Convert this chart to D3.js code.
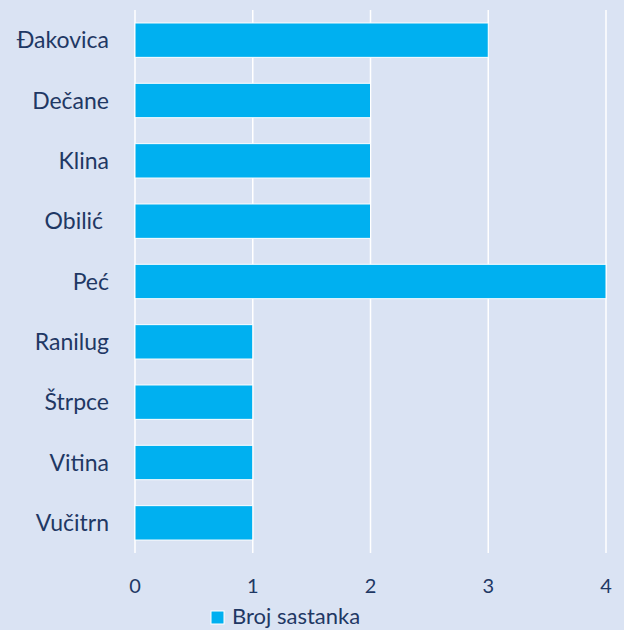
<!DOCTYPE html>
<html>
<head>
<meta charset="utf-8">
<script src="https://cdn.jsdelivr.net/npm/d3@7"></script>
<style>
  body { margin: 0; background: #dae3f3; }
  text { font-family: Lato, "Open Sans", sans-serif; fill: #1f3864; }
</style>
</head>
<body>
<svg id="chart" width="624" height="630"></svg>
<script>
// data
const municipalities = ["Đakovica", "Dečane", "Klina", "Obilić ", "Peć", "Ranilug", "Štrpce", "Vitina", "Vučitrn"];
const meetings = [3, 2, 2, 2, 4, 1, 1, 1, 1];
const xTicks = [0, 1, 2, 3, 4];
const seriesName = "Broj sastanka";

const svg = d3.select("#chart");
const plotLeft = 135, plotRight = 606, plotTop = 10, plotBottom = 553;

const x = d3.scaleLinear().domain([0, 4]).range([plotLeft, plotRight]);
const y = d3.scaleBand().domain(municipalities).range([plotTop, plotBottom]).paddingInner(0.43).paddingOuter(0.215);

svg.append("rect").attr("width", 624).attr("height", 630).attr("fill", "#dae3f3");

// gridlines
svg.selectAll(".grid")
  .data(xTicks)
  .enter()
  .append("line")
  .attr("x1", d => x(d)).attr("x2", d => x(d))
  .attr("y1", plotTop).attr("y2", plotBottom)
  .style("stroke", "#ffffff")
  .style("stroke-width", 1.5);

// bars
svg.selectAll(".bar")
  .data(municipalities)
  .enter()
  .append("rect")
  .attr("class", "bar")
  .attr("x", x(0))
  .attr("y", d => y(d))
  .attr("width", (d, i) => x(meetings[i]) - x(0))
  .attr("height", y.bandwidth())
  .style("fill", "#00b0f0")
  .style("stroke", "#ffffff")
  .style("stroke-width", 1);

// category labels
svg.selectAll(".cat")
  .data(municipalities)
  .enter()
  .append("text")
  .attr("x", 109)
  .attr("y", d => y(d) + y.bandwidth() / 2)
  .attr("dy", "0.36em")
  .attr("text-anchor", "end")
  .style("font-size", "23px")
  .style("white-space", "pre")
  .text(d => d);

// x tick labels
svg.selectAll(".tick-label")
  .data(xTicks)
  .enter()
  .append("text")
  .attr("x", d => x(d))
  .attr("y", 593)
  .attr("text-anchor", "middle")
  .style("font-size", "20px")
  .text(d => d);

// legend
svg.append("rect")
  .attr("x", 211).attr("y", 611)
  .attr("width", 13).attr("height", 13)
  .style("fill", "#00b0f0")
  .style("stroke", "#ffffff")
  .style("stroke-width", 1);
svg.append("text")
  .attr("x", 232).attr("y", 624)
  .style("font-size", "22px")
  .text(seriesName);
</script>
</body>
</html>
